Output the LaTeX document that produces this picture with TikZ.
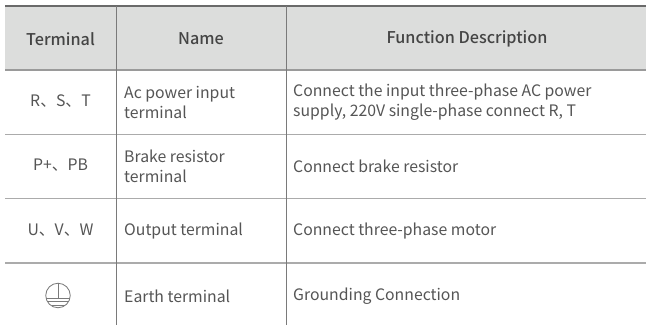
\documentclass[tikz,border=0pt]{standalone}
\usepackage{fontspec}
\setmainfont{Noto Sans CJK SC}[BoldFont={* Medium}]
\definecolor{hdrfill}{HTML}{DCDDDC}
\definecolor{topline}{HTML}{6A6A6A}
\definecolor{hdrline}{HTML}{9A9A9A}
\definecolor{rowline}{HTML}{ABABAB}
\definecolor{vline}{HTML}{7A7A7A}
\definecolor{hdrtext}{HTML}{444444}
\definecolor{bodytext}{HTML}{555555}
\definecolor{symline}{HTML}{7A7A7A}
\tikzset{
  hdr/.style={font=\fontsize{16.2}{19}\selectfont\bfseries, text=hdrtext, inner sep=0pt},
  cellc/.style={font=\fontsize{15.8}{20}\selectfont, text=bodytext, inner sep=0pt, align=center},
  celll/.style={font=\fontsize{15.8}{20}\selectfont, text=bodytext, inner sep=0pt, anchor=west, align=left},
  hline/.style={draw=rowline, line width=1.6pt},
  vrule/.style={draw=vline, line width=1pt},
  sym/.style={draw=symline, line width=0.85pt},
}
\begin{document}
\begin{tikzpicture}[x=1pt,y=-1pt]
\useasboundingbox[fill=white] (0,0) rectangle (646,325);
% header band
\fill[hdrfill] (5,6) rectangle (646,70);
\draw[draw=topline, line width=2pt] (5,6) -- (646,6);
\draw[draw=hdrline, line width=2pt] (5,70) -- (646,70);
% row lines
\draw[hline] (5,134.5) -- (646,134.5);
\draw[hline] (5,198.5) -- (646,198.5);
\draw[hline] (5,263) -- (646,263);
% vertical lines
\draw[vrule] (116,6) -- (116,325);
\draw[vrule] (286,6) -- (286,325);
% header text
\node[hdr] (h1) at (60.5,39) {Terminal};
\node[hdr] (h2) at (201,39) {Name};
\node[hdr] (h3) at (467,39) {Function Description};
% row 1
\node[cellc] (t1) at (60.5,101) {R、S、T};
\node[celll] (n1) at (124,102.5) {Ac power input\\terminal};
\node[celll] (f1) at (293,102.5) {Connect the input three-phase AC power\\supply, 220V single-phase connect R, T};
% row 2
\node[cellc] (t2) at (60.5,165.5) {P+、PB};
\node[celll] (n2) at (124,166.5) {Brake resistor\\terminal};
\node[celll] (f2) at (293,166) {Connect brake resistor};
% row 3
\node[cellc] (t3) at (60.5,230.5) {U、V、W};
\node[celll] (n3) at (124,231) {Output terminal};
\node[celll] (f3) at (293,231) {Connect three-phase motor};
% row 4: earth symbol
\node[sym, circle, minimum size=24.5pt, inner sep=0pt] (t4) at (58,295.5) {};
\draw[sym] (t4.north) -- (58,298.3);
\draw[sym] (46,298.3) -- (70,298.3);
\draw[sym] (48.3,301.8) -- (67.7,301.8);
\draw[sym] (51.5,305.2) -- (64.5,305.2);
\node[celll] (n4) at (124,296) {Earth terminal};
\node[celll] (f4) at (293,296) {Grounding Connection};
\end{tikzpicture}
\end{document}
